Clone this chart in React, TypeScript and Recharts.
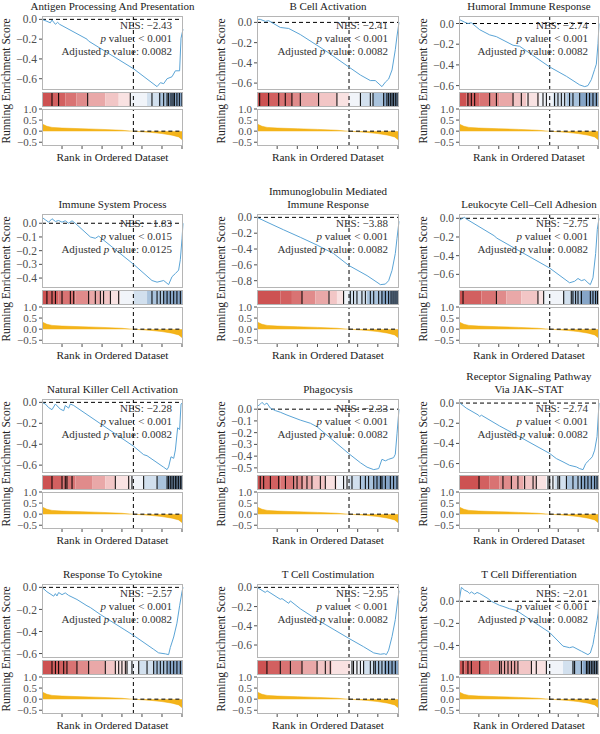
import React from "react";
import {
  LineChart,
  Line,
  AreaChart,
  Area,
  ComposedChart,
  XAxis,
  YAxis,
  ReferenceLine,
  ReferenceArea,
} from "recharts";

const FONT = '"Liberation Serif", "Times New Roman", serif';

const titles = [
  ["Antigen Processing And Presentation"],
  ["B Cell Activation"],
  ["Humoral Immune Response"],
  ["Immune System Process"],
  ["Immunoglobulin Mediated", "Immune Response"],
  ["Leukocyte Cell\u2013Cell Adhesion"],
  ["Natural Killer Cell Activation"],
  ["Phagocysis"],
  ["Receptor Signaling Pathway", "Via JAK\u2013STAT"],
  ["Response To Cytokine"],
  ["T Cell Costimulation"],
  ["T Cell Differentiation"],
];

const nesLabels = ["\u22122.43", "\u22122.41", "\u22122.74", "\u22121.83", "\u22123.88", "\u22122.75", "\u22122.28", "\u22122.33", "\u22122.74", "\u22122.57", "\u22122.95", "\u22122.01"];
const pLabels = ["< 0.001", "< 0.001", "< 0.001", "< 0.015", "< 0.001", "< 0.001", "< 0.001", "< 0.001", "< 0.001", "< 0.001", "< 0.001", "< 0.001"];
const padjLabels = ["0.0082", "0.0082", "0.0082", "0.0125", "0.0082", "0.0082", "0.0082", "0.0082", "0.0082", "0.0082", "0.0082", "0.0082"];

// running enrichment score: [rank position in % of list, ES]
const esAntigen = [[0, 0], [3.5, -0.02], [5.9, -0.035], [7.1, -0.007], [9.5, -0.05], [11.1, -0.03], [12.5, -0.05], [31.9, -0.2], [33.1, -0.22], [65, -0.5], [81.6, -0.68], [84, -0.64], [86.3, -0.65], [88.7, -0.6], [92.2, -0.58], [94.6, -0.52], [97.6, -0.52], [98.6, -0.19], [100, -0.1]];
const esBCell = [[0, 0.03], [2.3, 0.03], [5.9, 0.01], [8.2, 0.017], [16.4, -0.05], [22.3, -0.06], [30.5, -0.12], [49.3, -0.29], [64.6, -0.44], [72.8, -0.52], [79.8, -0.575], [83.3, -0.575], [88, -0.635], [90.4, -0.59], [92.7, -0.56], [95.1, -0.47], [97.4, -0.27], [98.6, -0.135], [100, 0]];
const esHumoral = [[0, 0.04], [4, 0.013], [6.4, 0], [8.8, 0.007], [14.8, -0.06], [21.9, -0.11], [26.7, -0.127], [38.6, -0.21], [43.3, -0.22], [64.8, -0.42], [76.7, -0.51], [86.2, -0.593], [89.8, -0.61], [92.1, -0.6], [94.5, -0.543], [96.9, -0.443], [98.1, -0.393], [99.3, -0.193], [100, 0]];
const esImmune = [[0, 0.043], [2.4, 0.025], [4.7, 0.008], [7.1, 0.033], [9.5, 0.013], [11.8, 0.02], [14.2, 0.008], [16.5, 0.018], [18.9, 0], [21.3, 0.018], [23.6, 0], [34.3, -0.1], [37.8, -0.11], [40.2, -0.094], [42.6, -0.114], [65, -0.3], [78, -0.418], [81.6, -0.43], [86.3, -0.418], [89.8, -0.448], [92.2, -0.39], [94.6, -0.367], [96.9, -0.342], [98.1, -0.266], [99.3, -0.114], [100, 0]];
const esIgG = [[0, 0], [7, -0.06], [18.8, -0.158], [30.5, -0.252], [42.3, -0.35], [54, -0.458], [64.6, -0.607], [77.5, -0.736], [84.5, -0.82], [86.9, -0.85], [90.4, -0.843], [92.7, -0.8], [95.1, -0.67], [97.4, -0.457], [98.6, -0.265], [100, -0.05]];
const esLeuko = [[0, -0.026], [2.4, 0], [4, 0.01], [5.2, -0.007], [25.5, -0.19], [26.7, -0.21], [64.8, -0.533], [79, -0.69], [82.6, -0.674], [85, -0.644], [87.4, -0.667], [89.8, -0.656], [92.1, -0.69], [93.8, -0.71], [95.7, -0.637], [97.6, -0.378], [98.8, -0.118], [100, 0]];
const esNK = [[0, 0], [2.4, -0.016], [4.7, -0.05], [7.1, -0.07], [9.5, -0.016], [13, -0.065], [15.4, -0.08], [16.5, -0.03], [18.9, -0.055], [20.1, -0.016], [22.5, -0.03], [65, -0.42], [72.1, -0.5], [74.5, -0.51], [86.3, -0.62], [88.7, -0.643], [89.8, -0.617], [91.5, -0.52], [93.4, -0.535], [94.6, -0.455], [96.2, -0.243], [97.6, -0.26], [98.6, -0.016], [100, 0]];
const esPhago = [[0, 0.023], [1.9, 0.038], [3.5, 0.058], [5.2, 0.038], [7, 0.052], [9.4, 0.009], [12.9, -0.012], [16.4, -0.026], [21.1, -0.05], [30.5, -0.093], [37.6, -0.12], [42.3, -0.15], [64.6, -0.378], [72.8, -0.456], [77.5, -0.494], [82.2, -0.515], [85.7, -0.506], [88, -0.427], [90.4, -0.44], [92.7, -0.427], [96.2, -0.413], [97.4, -0.384], [98.6, -0.21], [100, 0]];
const esJak = [[0, 0.007], [5.2, -0.05], [13.6, -0.117], [14.8, -0.133], [16, -0.12], [29, -0.227], [41, -0.317], [64.8, -0.5], [69.5, -0.55], [74.3, -0.583], [79, -0.617], [83.8, -0.633], [86.2, -0.65], [88.6, -0.66], [90.5, -0.6], [92.9, -0.567], [95.2, -0.533], [96.9, -0.467], [98.6, -0.333], [100, 0]];
const esCytokine = [[0, 0], [3.5, -0.04], [8.3, -0.08], [9.5, -0.057], [10.6, -0.078], [11.8, -0.047], [14.2, -0.066], [16.5, -0.05], [18.9, -0.073], [24.8, -0.11], [31.9, -0.167], [34.3, -0.183], [41.4, -0.246], [65, -0.436], [79.2, -0.562], [82.7, -0.594], [87.5, -0.603], [89.8, -0.61], [91, -0.546], [93.4, -0.45], [95.7, -0.325], [97.6, -0.167], [99.3, -0.04], [100, 0]];
const esCostim = [[0, 0], [5.9, -0.053], [7, -0.035], [16.4, -0.124], [17.6, -0.117], [22.3, -0.166], [23.5, -0.141], [30.5, -0.223], [42.3, -0.336], [64.6, -0.53], [75.1, -0.618], [82.2, -0.682], [86.9, -0.696], [89.7, -0.69], [91.1, -0.7], [92.7, -0.654], [95.1, -0.512], [97.4, -0.336], [98.6, -0.194], [100, -0.035]];
const esTdiff = [[0, -0.006], [1.7, 0.126], [4, 0.1], [6.4, 0.086], [7.6, 0.07], [8.8, 0.085], [11.2, 0.065], [12.9, 0.08], [14.8, 0.07], [20.7, 0.025], [23.1, 0], [29, -0.037], [31.4, -0.046], [36.2, -0.068], [41, -0.083], [64.8, -0.283], [74.3, -0.406], [79, -0.42], [81.4, -0.412], [87.4, -0.452], [92.1, -0.483], [93.8, -0.468], [95.7, -0.39], [96.9, -0.3], [98.6, -0.175], [99.3, -0.114], [100, 0.01]];

const esTicks = [
  [0, -0.2, -0.4, -0.6],
  [0, -0.2, -0.4, -0.6],
  [0, -0.2, -0.4, -0.6],
  [0, -0.1, -0.2, -0.3, -0.4],
  [0, -0.2, -0.4, -0.6, -0.8],
  [0, -0.2, -0.4, -0.6],
  [0, -0.2, -0.4, -0.6],
  [0, -0.1, -0.2, -0.3, -0.4, -0.5],
  [0, -0.2, -0.4, -0.6],
  [0, -0.2, -0.4, -0.6],
  [0, -0.2, -0.4, -0.6],
  [0, -0.2, -0.4],
];

// gene hits (black bars) in % of ranked list
const hitsAntigen = [7.1, 11.8, 32.4, 62.6, 78, 83.5, 86.3, 88.7, 89.8, 91.5, 92.9, 93.9, 95.7, 97.4, 99.3];
const hitsBCell = [1.9, 8.2, 15.3, 19.9, 24.6, 30.5, 43.4, 56.3, 72.8, 79.8, 81.7, 89.2, 91.5, 92.7, 93.9, 95.1, 96.2, 97.4, 98.6];
const hitsHumoral = [6.4, 8.8, 11.2, 21.9, 26.7, 38.6, 44.5, 49.3, 56.4, 60, 62.4, 68.3, 70.7, 73.1, 75.5, 79, 81.4, 86.2, 91, 93.3, 95.7, 98.1];
const hitsImmune = [3.5, 7.1, 9.5, 14.2, 20.1, 22.5, 33.1, 37.8, 41.4, 43.7, 48.5, 54.4, 78, 81.6, 83.9, 86.3, 88.7, 91, 93.4, 95.7, 98.1];
const hitsIgG = [31.7, 50.7, 61, 65.7, 68, 70.4, 73.9, 76.3, 79.8, 82.2, 85.7, 88, 90.4, 92.7, 94.4, 95.8, 97.2, 98.6];
const hitsLeuko = [2.9, 26.7, 56.4, 60.5, 74.8, 80.2, 81.4, 83.3, 85, 87.4, 93.8, 95.7, 97.6, 99];
const hitsNK = [7.1, 14.2, 16.5, 17.7, 21.3, 52, 61.5, 63.8, 72.1, 81.6, 88.7, 89.8, 91, 92.2, 93.4, 94.6, 95.7, 96.9, 98.1, 99.3];
const hitsPhago = [2.3, 4.7, 9.4, 15.3, 20, 25.8, 28.2, 31.7, 35.2, 38.7, 44.6, 48.1, 55.2, 61, 63.4, 66.9, 72.8, 76.3, 78.6, 82.2, 84.5, 86.9, 88, 90.4, 93.9, 96.2, 98.6];
const hitsJak = [14.3, 31.4, 37.4, 42.1, 46.9, 52.9, 55.2, 63.6, 64.8, 67.1, 70.7, 71.9, 76.7, 81.4, 85, 87.4, 89.8, 92.1, 94.5, 96.9, 98.6];
const hitsCytokine = [7.1, 9.5, 11.8, 15.4, 17.7, 24.8, 33.1, 44.9, 52, 54.4, 56.7, 59.1, 60.3, 63.8, 68.6, 74.5, 79.2, 81.6, 83.9, 86.3, 88.7, 91, 93.4, 95.7, 98.1];
const hitsCostim = [7, 16.4, 23.5, 31.7, 42.3, 48.1, 51.6, 66.9, 68, 70.4, 72.8, 75.1, 79.8, 82.2, 83.3, 85.7, 88, 90.4, 92.7, 95.1, 97.4];
const hitsTdiff = [2.9, 6.4, 8.8, 14.8, 29, 30.2, 32.6, 35, 37.4, 39.8, 42.1, 51.7, 55.2, 62.4, 81.4, 82.6, 87.4, 91, 92.1, 93.3, 94.5, 95.7, 96.9, 98.1, 99.3];

// colour-bin boundaries of the strip, % of ranked list
const binsAntigen = [7.1, 16.5, 24.3, 32.4, 44.9, 54.4, 62.6, 74.5, 82.7, 90];
const binsBCell = [8.2, 15.3, 24.6, 30.5, 43.4, 56.3, 65, 72.8, 81.7, 89.2];
const binsHumoral = [5.2, 14.8, 21.9, 29, 38.6, 48.1, 57.6, 67.1, 76.7, 86.2];
const binsImmune = [3.5, 11.8, 23.6, 33.1, 41.4, 48.5, 55.6, 65, 74.5, 86.3];
const binsIgG = [16.4, 24.6, 31.7, 41.1, 50.5, 56.3, 61, 64.6, 77.5, 86.9];
const binsLeuko = [2.9, 16, 26.7, 33.8, 44.5, 56.4, 60.5, 74.3, 80.2, 86.2];
const binsNK = [7.1, 14.2, 23.6, 35.5, 44.9, 52, 62.6, 72.1, 81.6, 88.7];
const binsPhago = [2.3, 16.4, 25.8, 32.9, 38.7, 48.1, 56.3, 64.6, 72.8, 82.2];
const binsJak = [14.3, 21.9, 29, 37.4, 45.7, 55.2, 62.4, 68.3, 76.7, 86.2];
const binsCytokine = [7.1, 17.7, 24.8, 33.1, 44.9, 52, 60.3, 68.6, 79.2, 88.7];
const binsCostim = [7, 16.4, 23.5, 31.7, 42.3, 52.8, 65.7, 75.1, 82.2, 89.2];
const binsTdiff = [4, 14.8, 21.9, 29, 42.1, 51.7, 62.4, 74.3, 81.4, 88.6];

const stripColors = ["#CD5252", "#D26060", "#D97373", "#E08B8B", "#E9A8A8", "#F2C6C6", "#F9E2E2", "#F1F4F9", "#D2E0EE", "#A9C3DD", "#86A5C7"];

// ranked list metric, shared by all panels
const rankX = [0, 1.2, 3.5, 7.1, 14.2, 28.4, 42.6, 56.7, 63.8, 70.9, 78, 85.1, 92.2, 96.9, 99.3, 100];
const rankMetric = [0.34, 0.29, 0.22, 0.17, 0.14, 0.11, 0.08, 0.04, 0.0, -0.03, -0.06, -0.11, -0.18, -0.26, -0.38, -0.45];
const rankTicks = [14.2, 28.4, 42.6, 56.7, 70.9, 85.1, 99.3];
const metricTicks = [1, 0.5, 0, -0.5];
const zeroCross = 64.8;

const panelES = [esAntigen, esBCell, esHumoral, esImmune, esIgG, esLeuko, esNK, esPhago, esJak, esCytokine, esCostim, esTdiff];
const panelHits = [hitsAntigen, hitsBCell, hitsHumoral, hitsImmune, hitsIgG, hitsLeuko, hitsNK, hitsPhago, hitsJak, hitsCytokine, hitsCostim, hitsTdiff];
const panelBins = [binsAntigen, binsBCell, binsHumoral, binsImmune, binsIgG, binsLeuko, binsNK, binsPhago, binsJak, binsCytokine, binsCostim, binsTdiff];

const colLeft = [42, 257, 459];
const colWidth = [141, 142, 140];
const rowTop = [16, 214, 399, 584];

const BORDER = "#b5b5b5";
const TICK = "#4d4d4d";
const DASH = "4 3";

const fmt = (v: number) => (v < 0 ? "\u2212" : "") + Math.abs(v).toFixed(1);
const tickStyle = { fontSize: 11.5, fill: TICK, fontFamily: FONT };
const smallTickStyle = { fontSize: 11, fill: TICK, fontFamily: FONT };
const noMargin = { top: 0, right: 0, bottom: 0, left: 0 };
const stripFrame = [{ x: 0, y: 0 }, { x: 100, y: 1 }];

function Txt({ x, y, anchor = "middle", size = 11, color = "#222", rotate = false, children }: any) {
  const tx = anchor === "middle" ? "-50%" : anchor === "end" ? "-100%" : "0";
  return (
    <div
      style={{
        position: "absolute",
        left: x,
        top: y,
        transform: `translate(${tx}, -50%)${rotate ? " rotate(-90deg)" : ""}`,
        fontSize: size,
        color,
        lineHeight: 1,
        whiteSpace: "nowrap",
        fontFamily: FONT,
      }}
    >
      {children}
    </div>
  );
}

function Box({ x, y, w, h }: any) {
  return (
    <div
      style={{
        position: "absolute",
        left: x,
        top: y,
        width: w,
        height: h,
        border: `1px solid ${BORDER}`,
        boxSizing: "border-box",
        pointerEvents: "none",
      }}
    />
  );
}

function Panel({ i }: { i: number }) {
  const col = i % 3;
  const row = Math.floor(i / 3);
  const left = colLeft[col];
  const w = colWidth[col];
  const top = rowTop[row];

  const es = panelES[i].map(([x, y]) => ({ x, y }));
  const ys = es.map((d) => d.y);
  const lo = Math.min(...ys);
  const hi = Math.max(...ys);
  const pad = (hi - lo) * 0.05;

  const edges = [0, ...panelBins[i], 100];
  const rank = rankX.map((x, k) => ({ x, v: rankMetric[k] }));
  const title = titles[i];

  return (
    <>
      {title.map((t, k) => (
        <Txt key={k} x={left + w / 2} y={top - 10.5 - (title.length - 1 - k) * 13} size={11}>
          {t}
        </Txt>
      ))}

      <div style={{ position: "absolute", left: left - 40, top }}>
        <LineChart width={w + 40} height={74} data={es} margin={noMargin}>
          <XAxis type="number" dataKey="x" domain={[0, 100]} hide />
          <YAxis
            type="number"
            width={40}
            domain={[lo - pad, hi + pad]}
            allowDataOverflow
            ticks={esTicks[i]}
            interval={0}
            tickFormatter={fmt}
            tick={tickStyle}
            tickSize={3}
            tickLine={{ stroke: TICK }}
            axisLine={false}
          />
          <ReferenceLine y={0} stroke="#000" strokeDasharray={DASH} />
          <ReferenceLine x={zeroCross} stroke="#000" strokeDasharray={DASH} />
          <Line dataKey="y" type="linear" stroke="#5AA4D6" strokeWidth={1} dot={false} isAnimationActive={false} />
        </LineChart>
      </div>

      <div style={{ position: "absolute", left, top: top + 76 }}>
        <ComposedChart width={w} height={15} data={stripFrame} margin={noMargin}>
          <XAxis type="number" dataKey="x" domain={[0, 100]} hide />
          <YAxis type="number" domain={[0, 1]} allowDataOverflow hide />
          <Line dataKey="y" stroke="none" dot={false} isAnimationActive={false} />
          {edges.slice(0, -1).map((e, k) => (
            <ReferenceArea key={"a" + k} x1={e} x2={edges[k + 1]} y1={0} y2={1} fill={stripColors[k]} fillOpacity={1} stroke="none" />
          ))}
          {panelHits[i].map((h, k) => (
            <ReferenceLine key={"h" + k} x={h} stroke="#000" strokeWidth={1} />
          ))}
          <ReferenceLine x={zeroCross} stroke="#000" strokeDasharray={DASH} />
        </ComposedChart>
      </div>

      <div style={{ position: "absolute", left: left - 40, top: top + 93 }}>
        <AreaChart width={w + 40} height={42} data={rank} margin={noMargin}>
          <XAxis
            type="number"
            dataKey="x"
            domain={[0, 100]}
            ticks={rankTicks}
            interval={0}
            tickFormatter={() => ""}
            tickSize={3}
            tickLine={{ stroke: TICK }}
            axisLine={false}
            height={5}
          />
          <YAxis
            type="number"
            width={40}
            domain={[-0.67, 1]}
            allowDataOverflow
            ticks={metricTicks}
            interval={0}
            tickFormatter={fmt}
            tick={smallTickStyle}
            tickSize={3}
            tickLine={{ stroke: TICK }}
            axisLine={false}
          />
          <Area dataKey="v" type="linear" baseValue={0} fill="#F4B41A" fillOpacity={1} stroke="#EFA800" strokeWidth={0.5} isAnimationActive={false} />
          <ReferenceLine segment={[{ x: zeroCross, y: 0 }, { x: 100, y: 0 }]} stroke="#000" strokeDasharray={DASH} />
          <ReferenceLine x={zeroCross} stroke="#000" strokeDasharray={DASH} />
        </AreaChart>
      </div>

      <Box x={left} y={top} w={w} h={74} />
      <Box x={left} y={top + 76} w={w} h={15} />
      <Box x={left} y={top + 93} w={w} h={37} />

      <Txt x={left + w - 11} y={top + 8.5} anchor="end" size={11} color="#333">
        NES: {nesLabels[i]}
      </Txt>
      <Txt x={left + w - 11} y={top + 21.5} anchor="end" size={11} color="#333">
        <i>p</i> value: {pLabels[i]}
      </Txt>
      <Txt x={left + w - 11} y={top + 34.5} anchor="end" size={11} color="#333">
        Adjusted <i>p</i> value: {padjLabels[i]}
      </Txt>

      <Txt x={left - 35} y={top + 65} size={11.5} rotate>
        Running Enrichment Score
      </Txt>
      <Txt x={left + w / 2} y={top + 142} size={11.3}>
        Rank in Ordered Dataset
      </Txt>
    </>
  );
}

export default function App() {
  return (
    <div
      style={{
        position: "absolute",
        left: 0,
        top: 0,
        width: 600,
        height: 734,
        background: "#fff",
        overflow: "hidden",
        fontFamily: FONT,
      }}
    >
      <style>{".recharts-surface{overflow:visible}"}</style>
      {titles.map((_, i) => (
        <Panel key={i} i={i} />
      ))}
    </div>
  );
}
